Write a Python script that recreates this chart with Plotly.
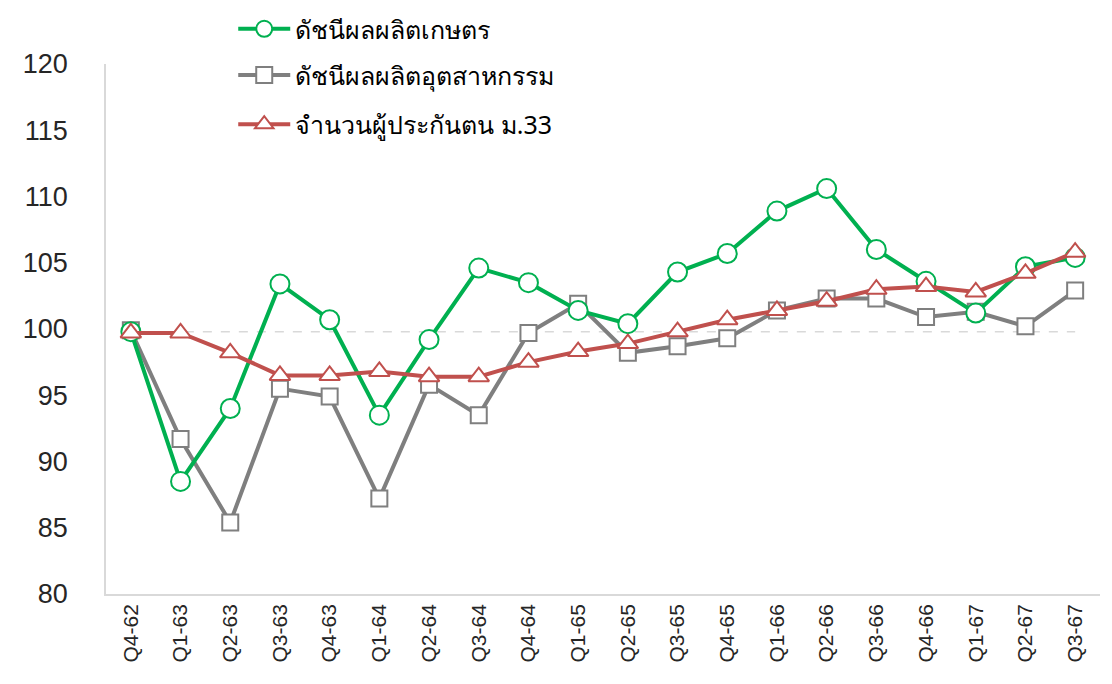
import plotly.graph_objects as go

quarters = ["Q4-62", "Q1-63", "Q2-63", "Q3-63", "Q4-63", "Q1-64", "Q2-64", "Q3-64",
            "Q4-64", "Q1-65", "Q2-65", "Q3-65", "Q4-65", "Q1-66", "Q2-66", "Q3-66",
            "Q4-66", "Q1-67", "Q2-67", "Q3-67"]

# ดัชนีผลผลิตเกษตร
agri = [99.8, 88.5, 94.0, 103.4, 100.7, 93.5, 99.2, 104.6, 103.5, 101.4,
        100.4, 104.3, 105.7, 108.9, 110.6, 106.0, 103.6, 101.2, 104.7, 105.4]
# ดัชนีผลผลิตอุตสาหกรรม
indus = [99.9, 91.7, 85.4, 95.5, 94.9, 87.2, 95.8, 93.5, 99.7, 101.9,
         98.2, 98.7, 99.3, 101.4, 102.3, 102.3, 100.9, 101.3, 100.2, 102.9]
# จำนวนผู้ประกันตน ม.33
insured = [99.7, 99.7, 98.2, 96.5, 96.5, 96.8, 96.4, 96.4, 97.5, 98.3,
           98.9, 99.8, 100.7, 101.4, 102.1, 103.0, 103.2, 102.8, 104.2, 105.8]
baseline = [99.8] * len(quarters)

names = ["ดัชนีผลผลิตเกษตร", "ดัชนีผลผลิตอุตสาหกรรม", "จำนวนผู้ประกันตน ม.33"]

font_fam = "Noto Sans, Tahoma, sans-serif"
tick_fam = "Liberation Sans Narrow, Arial Narrow, sans-serif"

fig = go.Figure()
fig.add_trace(go.Scatter(x=quarters, y=baseline, mode="lines", showlegend=False,
                         line=dict(color="#d9d9d9", width=1.5, dash="dash"),
                         hoverinfo="skip"))
fig.add_trace(go.Scatter(x=quarters, y=indus, mode="lines+markers", name=names[1],
                         legend="legend2",
                         line=dict(color="#7f7f7f", width=4),
                         marker=dict(symbol="square", size=16, color="white",
                                     line=dict(color="#7f7f7f", width=2))))
fig.add_trace(go.Scatter(x=quarters, y=agri, mode="lines+markers", name=names[0],
                         legend="legend",
                         line=dict(color="#00b050", width=4),
                         marker=dict(symbol="circle", size=19, color="white",
                                     line=dict(color="#00b050", width=2))))
fig.add_trace(go.Scatter(x=quarters, y=insured, mode="lines+markers", name=names[2],
                         legend="legend3",
                         line=dict(color="#c0504d", width=4),
                         marker=dict(symbol="triangle-up", size=18, color="white",
                                     line=dict(color="#c0504d", width=2))))

leg = dict(x=0.128, xanchor="left", yanchor="middle", bgcolor="rgba(0,0,0,0)",
           itemwidth=52,
           font=dict(size=25, color="#000000", family=font_fam))
fig.update_layout(
    width=1104, height=676,
    margin=dict(l=98, r=12, t=56, b=90, autoexpand=False),
    plot_bgcolor="white", paper_bgcolor="white",
    font=dict(family=font_fam, color="#262626"),
    legend=dict(leg, y=1.066),
    legend2=dict(leg, y=0.979),
    legend3=dict(leg, y=0.886),
    xaxis=dict(type="category", range=[-0.5, len(quarters) - 0.5],
               showline=True, linecolor="#d9d9d9", linewidth=1.5,
               tickangle=-90, tickfont=dict(size=21, color="#262626", family=tick_fam),
               ticks="", showgrid=False),
    yaxis=dict(range=[80, 120], dtick=5, showline=True, linecolor="#d9d9d9",
               linewidth=1.5, showgrid=False, zeroline=False, ticks="",
               tickfont=dict(size=27, color="#262626", family=tick_fam),
               ticklabelstandoff=31),
)

fig.write_html("out.html")
